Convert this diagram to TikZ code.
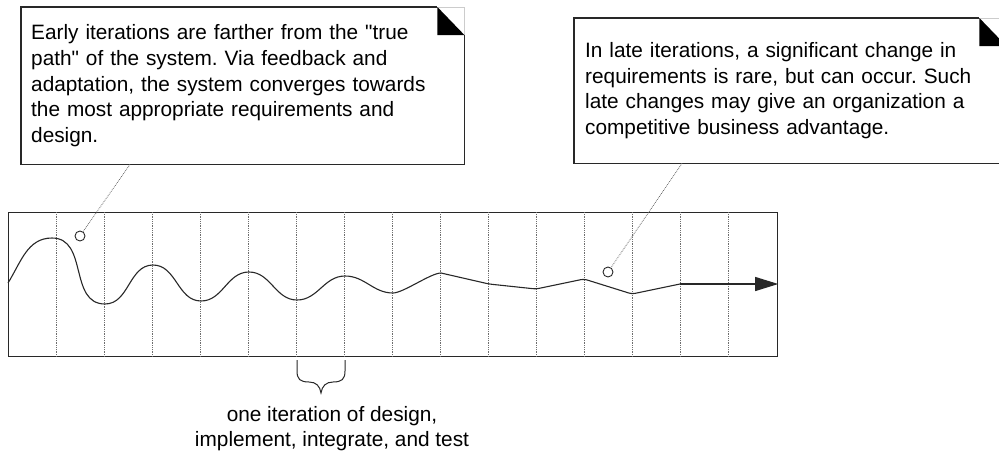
\documentclass[tikz,border=0pt]{standalone}
\usepackage{fontspec}
\setmainfont{Liberation Sans}[Ligatures=TeXOff]
\usepackage{tikz}
\usetikzlibrary{arrows.meta,positioning,calc}
\definecolor{inkgray}{RGB}{40,40,40}
\definecolor{dotgray}{RGB}{110,110,110}
\frenchspacing

\tikzset{
  note/.style={anchor=north west, inner xsep=10pt, inner ysep=0pt,
               align=left, font=\fontsize{20.8}{25.6}\selectfont},
  frame/.style={draw=inkgray, line width=1.2pt, inner sep=0pt},
  grid/.style={dotgray, densely dotted, line width=0.8pt},
  leader/.style={dotgray, densely dotted, line width=0.8pt},
  wave/.style={inkgray, line width=1.1pt},
  dot/.style={circle, draw=inkgray, line width=0.9pt, minimum size=10pt, inner sep=0pt},
}

\begin{document}
\begin{tikzpicture}[x=1pt,y=-1pt]
    \useasboundingbox (0,0) rectangle (999,451);

    % notes
    \node[note, minimum width=443pt, minimum height=157pt, text width=423pt] (early) at (21,7)
        {Early iterations are farther from the "true\\
         path" of the system. Via feedback and\\
         adaptation, the system converges towards\\
         the most appropriate requirements and\\
         design.};
    \node[note, inner xsep=11pt, minimum width=432pt, minimum height=145pt, text width=410pt] (late) at (574,18)
        {In late iterations, a significant change in\\
         requirements is rare, but can occur. Such\\
         late changes may give an organization a\\
         competitive business advantage.};
    \foreach \n in {early,late} {
        \draw[gray!40, line width=0.8pt] ([xshift=-27pt]\n.north east) -- (\n.north east) -- ([yshift=-28pt]\n.north east);
        \draw[inkgray, line width=1.1pt] ([xshift=-27pt]\n.north east) -- (\n.north west) -- (\n.south west)
            -- (\n.south east) -- ([yshift=-28pt]\n.north east);
        \fill ([xshift=-27pt]\n.north east) -- ([xshift=-27pt,yshift=-28pt]\n.north east)
            -- ([yshift=-28pt]\n.north east) -- cycle;
    }

    % iteration frame
    \node[frame, minimum width=769pt, minimum height=144pt, anchor=north west] (box) at (8,212) {};
    \foreach \i in {1,...,15}
        \draw[grid] ([xshift=\i*48pt]box.north west) -- ([xshift=\i*48pt]box.south west);

    % converging path
    \draw[wave] (8,283) to[out=58,in=180] (52,238)
        to[out=0,in=180,looseness=1.1] (105,304) to[out=0,in=180] (153,265)
        to[out=0,in=180] (201,301) to[out=0,in=180] (249,272)
        to[out=0,in=180] (297,300) to[out=0,in=180] (345,276)
        to[out=0,in=180] (393,293) to[out=0,in=180,looseness=0.5] (441,273);
    \coordinate (settle) at (680,284);
    \draw[wave, rounded corners=3pt] (441,273) -- (489,284) -- (536,289) -- (584,279)
        -- (632,294) -- (settle);
    \draw[wave, -{Triangle[length=23pt,width=14pt]}] (settle) -- (settle -| box.east);

    % markers and leaders
    \node[dot] (earlyDot) at (80,236) {};
    \node[dot] (lateDot) at (608,272) {};
    \coordinate (earlyTail) at ([xshift=109pt]early.south west);
    \coordinate (lateTail) at ([xshift=108pt]late.south west);
    \draw[leader] (earlyTail) -- (earlyDot);
    \draw[leader] (lateTail) -- (lateDot);

    % one iteration
    \draw[inkgray, line width=1pt] (297,360) -- (297,371)
        .. controls (297,379) and (300,382) .. (309,382)
        .. controls (316,382) and (320,386) .. (321,393)
        .. controls (322,386) and (326,382) .. (333,382)
        .. controls (342,382) and (345,379) .. (345,371) -- (345,360);
    \node[anchor=north, inner sep=0pt, align=center, font=\fontsize{20.8}{25.6}\selectfont] (iterLabel) at (332,406)
        {one iteration of design,\\implement, integrate, and test};
\end{tikzpicture}
\end{document}
